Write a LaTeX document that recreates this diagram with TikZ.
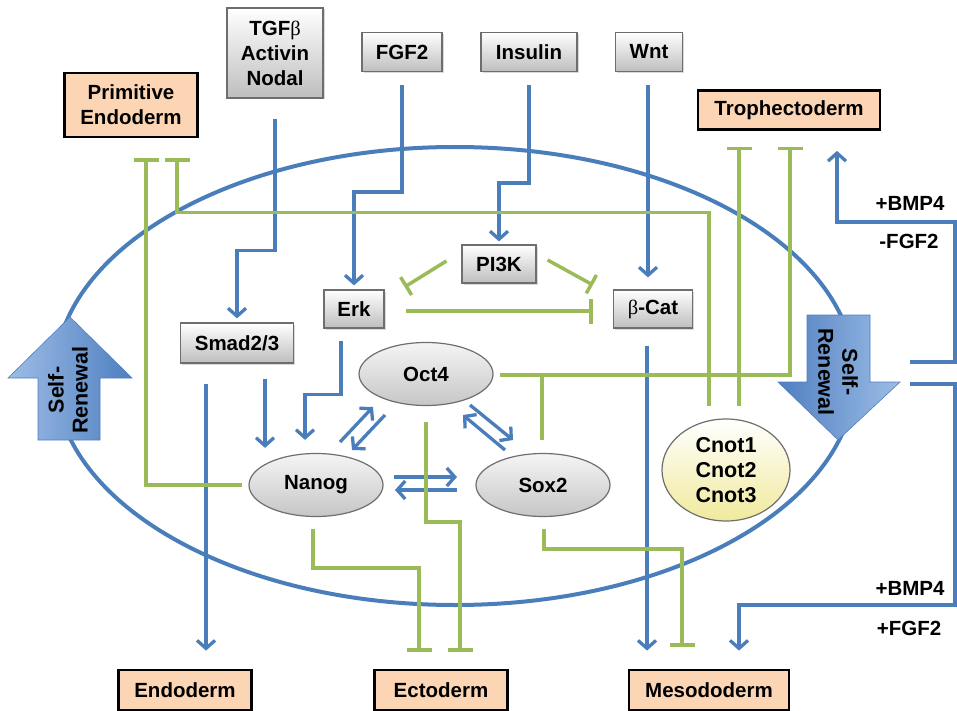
\documentclass[tikz,border=0pt]{standalone}
\usepackage{fontspec}
\setmainfont{Liberation Sans}
\newfontfamily\grkfont{Liberation Serif}
\usetikzlibrary{arrows.meta,calc,shadows,shapes.geometric}

\definecolor{lblue}{HTML}{4A7EBB}
\definecolor{lgreen}{HTML}{9BBB59}
\definecolor{orangefill}{HTML}{FCD5B5}
\definecolor{boxedge}{HTML}{6E6E6E}
\definecolor{graybot}{HTML}{BEBEBE}
\definecolor{ellbot}{HTML}{C6C6C6}
\definecolor{ylw}{HTML}{F0EA9C}
\definecolor{srlight}{HTML}{9DBDE6}
\definecolor{srdark}{HTML}{4F7FC0}

\begin{document}
\begin{tikzpicture}[x=1pt,y=-1pt,
  txt/.style={font=\fontsize{20.5}{25}\selectfont\bfseries, align=center, text=black},
  gbox/.style={txt, draw=boxedge, line width=1.2pt, top color=white, bottom color=graybot, inner sep=0pt,
    drop shadow={shadow xshift=1.5pt,shadow yshift=-1.5pt,opacity=0.3}},
  obox/.style={txt, draw=black, line width=2.8pt, fill=orangefill, inner sep=0pt},
  gell/.style={txt, ellipse, draw=boxedge, line width=1.2pt, top color=gray!8, bottom color=ellbot, inner sep=0pt,
    minimum width=134pt, minimum height=63pt},
  barr/.style={draw=lblue, line width=3.3pt, -{Straight Barb[length=8pt,width=18pt]}},
  inh/.style={draw=lgreen, line width=3.5pt, -{Bar[width=25pt]}},
  inhs/.style={draw=lgreen, line width=3.5pt, -{Bar[width=21pt]}},
  gline/.style={draw=lgreen, line width=3.5pt},
  lbl/.style={font=\fontsize{20.5}{25}\selectfont\bfseries, text=black, inner sep=0pt},
  srtext/.style={font=\fontsize{21.5}{24}\selectfont\bfseries, align=center, text=black, inner sep=0pt},
]
\useasboundingbox (0,0) rectangle (957,711);

% cell
\draw[lblue, line width=4pt] (455,376) ellipse [x radius=400, y radius=229];

% self-renewal arrows
\path[left color=srlight, right color=srdark, draw=srdark, line width=0.6pt]
  (38,440) -- (38,378) -- (8,378) -- (70,317) -- (132,378) -- (100,378) -- (100,440) -- cycle;
\node[srtext, rotate=90] (srl) at (68,390) {Self-\\Renewal};
\path[left color=srdark, right color=srlight, draw=srdark, line width=0.6pt]
  (807,315) -- (870,315) -- (870,382) -- (900,382) -- (838,440) -- (778,382) -- (807,382) -- cycle;
\node[srtext, rotate=-90] (srr) at (838,372) {Self-\\Renewal};

% signals
\node[gbox, minimum width=96pt, minimum height=90pt] (tgf) at (275,53) {TGF{\grkfont\mdseries β}\\Activin\\Nodal};
\node[gbox, minimum width=80pt, minimum height=39pt] (fgf) at (402,52) {FGF2};
\node[gbox, minimum width=96pt, minimum height=39pt] (ins) at (529,52) {Insulin};
\node[gbox, minimum width=67pt, minimum height=39pt] (wnt) at (649,52) {Wnt};

% fates
\node[obox, minimum width=133pt, minimum height=64pt] (pe) at (131,105) {Primitive\\Endoderm};
\node[obox, minimum width=182pt, minimum height=39pt] (tro) at (789,110) {Trophectoderm};
\node[obox, minimum width=133pt, minimum height=40pt] (endo) at (185,690) {Endoderm};
\node[obox, minimum width=133pt, minimum height=40pt] (ecto) at (441,690) {Ectoderm};
\node[obox, minimum width=160pt, minimum height=40pt] (meso) at (709,690) {Mesododerm};

% intracellular
\node[gbox, minimum width=113pt, minimum height=40pt] (smad) at (237,343) {Smad2/3};
\node[gbox, minimum width=60pt, minimum height=38pt] (erk) at (354,309) {Erk};
\node[gbox, minimum width=74pt, minimum height=38pt] (pi3k) at (499,264) {PI3K};
\node[gbox, minimum width=79pt, minimum height=38pt] (bcat) at (653,309) {{\grkfont\mdseries β}-Cat};

\node[gell] (oct4) at (426,374) {Oct4};
\node[gell] (nanog) at (316,485) {Nanog};
\node[gell] (sox2) at (543,485) {Sox2};
\node[txt, ellipse, draw=boxedge, line width=1.2pt, top color=white, bottom color=ylw, inner sep=0pt,
  minimum width=128pt, minimum height=102pt, font=\fontsize{21.5}{25}\selectfont\bfseries] (cnot) at (726,470) {Cnot1\\Cnot2\\Cnot3};

% side labels
\node[lbl] (l1) at (910,203) {+BMP4};
\node[lbl] (l2) at (909,241) {-FGF2};
\node[lbl] (l3) at (910,588) {+BMP4};
\node[lbl] (l4) at (909,628) {+FGF2};

% activating connectors
\draw[barr] ($(tgf.south)+(0,20)$) -- ++(0,132) -| ($(smad.north)+(0,-4)$);
\draw[barr] ($(fgf.south)+(0,13)$) -- ++(0,107) -| ($(erk.north)+(0,-4)$);
\draw[barr] ($(ins.south)+(0,13)$) -- ++(0,98) -| ($(pi3k.north)+(0,-3)$);
\draw[barr] ($(wnt.south)+(-1,13)$) -- ($(wnt.south |- bcat.north)+(-1,-12)$);
\draw[barr] ($(bcat.south)+(-6,17)$) -- ($(bcat.south |- meso.north)+(-6,-18)$);
\draw[barr] ($(smad.south)+(-31,20)$) -- ($(smad.south |- endo.north)+(-31,-18)$);
\draw[barr] ($(smad.south)+(28,15)$) -- ($(smad.south |- nanog.north)+(28,-5)$);
\draw[barr] ($(erk.south)+(-13,12)$) -- ++(0,54) -| ($(nanog.north)+(-11,-13)$);

\draw[barr] ($(nanog)+(24,-43)$) -- ($(oct4)+(-53,33)$);
\draw[barr] ($(oct4)+(-41,41)$) -- ($(nanog)+(36,-35)$);
\draw[barr] ($(oct4)+(44,31)$) -- ($(sox2)+(-30,-45)$);
\draw[barr] ($(sox2)+(-38,-35)$) -- ($(oct4)+(37,41)$);
\draw[barr] ($(nanog)+(78,-8)$) -- ($(sox2)+(-86,-8)$);
\draw[barr] ($(sox2)+(-86,5)$) -- ($(nanog)+(79,5)$);

\coordinate (r1) at (910,362);
\coordinate (r2) at (910,384);
\draw[barr] (r1) -- (955,362) -- (955,222) -| ($(tro.south)+(48,20)$);
\draw[barr] (r2) -- (955,384) -- (955,605) -| ($(meso.north)+(30,-18)$);

% inhibitory connectors
\draw[inh] ($(nanog.west)+(-6,0)$) -| ($(pe.south)+(15,20)$);
\draw[inh] ($(cnot.north)+(-17,-12)$) -- ++(0,-194) -| ($(pe.south)+(46,20)$);
\draw[inh] ($(cnot.north)+(13,-12)$) -- ($(cnot.north |- tro.south)+(13,16)$);
\draw[inh] ($(oct4.east)+(6,1)$) -| ($(tro.south)+(1,16)$);
\draw[gline] ($(sox2.north)+(-1,-13)$) -- ($(sox2.north |- oct4.east)+(-1,1)$);
\draw[inh] ($(oct4.south)+(0,16)$) -- ++(0,100) -| ($(ecto.north)+(19,-17)$);
\draw[inh] ($(nanog.south)+(-3,12)$) -- ++(0,39) -| ($(ecto.north)+(-22,-17)$);
\draw[inh] ($(sox2.south)+(1,12)$) -- ++(0,20) -| ($(meso.north)+(-27,-22)$);
\draw[inhs] ($(pi3k.west)+(-15,-3)$) -- ($(erk.east)+(20,-22)$);
\draw[inhs] ($(pi3k.east)+(11,-4)$) -- ($(bcat.west)+(-20,-24)$);
\draw[inh] ($(erk.east)+(21,2)$) -- ($(bcat.west)+(-20,2)$);
\end{tikzpicture}
\end{document}
